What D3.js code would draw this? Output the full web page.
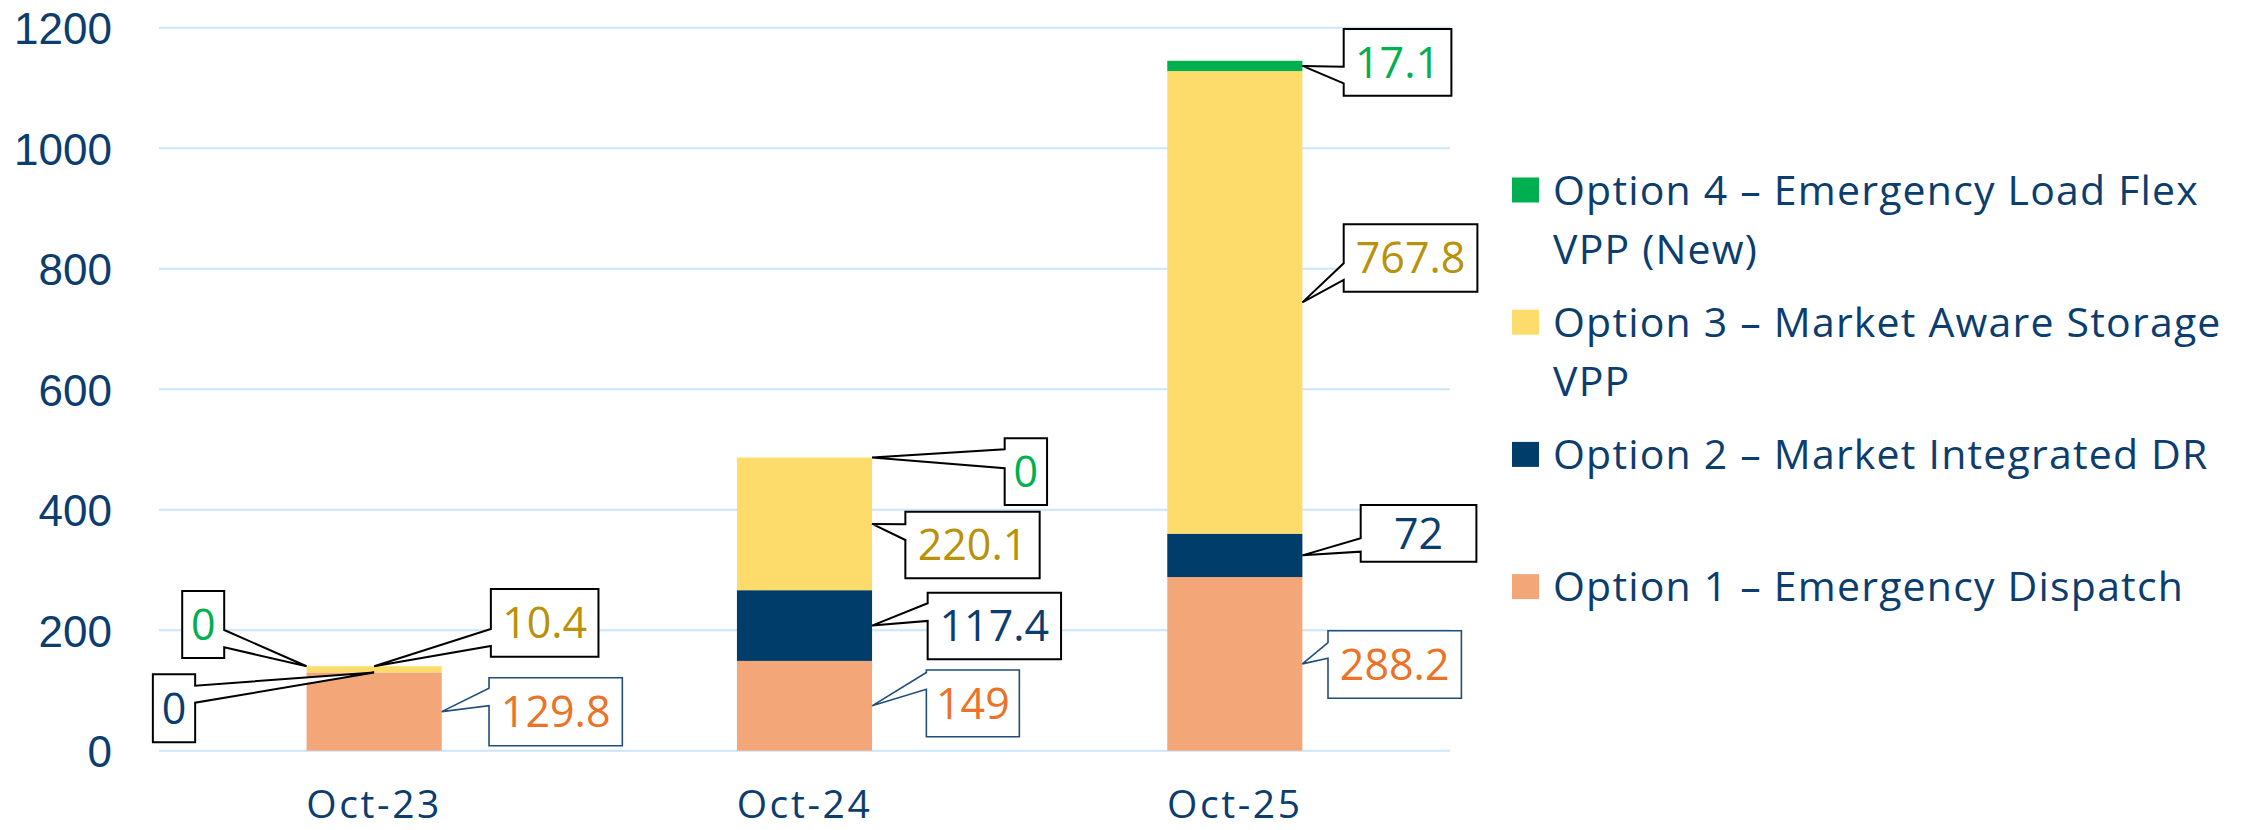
<!DOCTYPE html>
<html>
<head>
<meta charset="utf-8">
<script src="https://cdn.jsdelivr.net/npm/d3@7/dist/d3.min.js"></script>
<style>
  html, body { margin: 0; padding: 0; background: #fff; }
  svg { display: block; }
</style>
</head>
<body>
<svg id="chart" width="2247" height="830"></svg>
<script>
// ---------------- DATA ----------------
const categories = ["Oct-23", "Oct-24", "Oct-25"];
const seriesNames = [
  "Option 1 – Emergency Dispatch",
  "Option 2 – Market Integrated DR",
  "Option 3 – Market Aware Storage VPP",
  "Option 4 – Emergency Load Flex VPP (New)"
];
const option1 = [129.8, 149, 288.2];
const option2 = [0, 117.4, 72];
const option3 = [10.4, 220.1, 767.8];
const option4 = [0, 0, 17.1];
const yTicks = [0, 200, 400, 600, 800, 1000, 1200];
// legend text, as wrapped in the original (top to bottom)
const legendOrder = [3, 2, 1, 0];
const legendLines = [
  ["Option 4 – Emergency Load Flex", "VPP (New)"],
  ["Option 3 – Market Aware Storage", "VPP"],
  ["Option 2 – Market Integrated DR"],
  ["Option 1 – Emergency Dispatch"]
];

// ---------------- STYLE / LAYOUT ----------------
const barColors = ["#F3A779", "#003D6B", "#FEDC6C", "#00AF50"];
const labelColors = ["#EC7228", "#0B3D6E", "#B8920A", "#00B050"];
const calloutStroke = ["#1F4E79", "#000000", "#000000", "#000000"];
const navy = "#0B3D6E";
const gridColor = "#CDE5F8";

// callout placement relative to anchor point on bar (pixels)
const callouts = [
  [ // Oct-23
    {ax: "right",  ay: "mid", dx: 47.3,   dy: -33.9, w: 133.3, h: 68,   side: "left",  p1: 10.6, p2: 28},
    {ax: "center", ay: "top", dx: -221.3, dy: 1.8,   w: 42.3,  h: 68,   side: "right", p1: 11.4, p2: 28.4},
    {ax: "center", ay: "top", dx: 116.7,  dy: -77.2, w: 107.6, h: 67.7, side: "left",  p1: 40,   p2: 57},
    {ax: "left",   ay: "top", dx: -124.4, dy: -75.2, w: 42,    h: 67,   side: "right", p1: 39,   p2: 56.3}
  ],
  [ // Oct-24
    {ax: "right", ay: "mid", dx: 54.3, dy: -35.8, w: 93,    h: 66.7, side: "left", p1: 2.5,  p2: 19.2},
    {ax: "right", ay: "mid", dx: 55.6, dy: -32.9, w: 133.4, h: 66.6, side: "left", p1: 10.6, p2: 28.3},
    {ax: "right", ay: "mid", dx: 33.3, dy: -12.2, w: 134.3, h: 66.6, side: "left", p1: 12.6, p2: 28.3},
    {ax: "right", ay: "top", dx: 132.6, dy: -19.3, w: 42.4, h: 66.7, side: "left", p1: 11,   p2: 30}
  ],
  [ // Oct-25
    {ax: "right", ay: "mid", dx: 25.6, dy: -33.2, w: 133.4, h: 67.6, side: "left", p1: 12,   p2: 27.6},
    {ax: "right", ay: "mid", dx: 58.3, dy: -50.4, w: 115.7, h: 56.7, side: "left", p1: 33.3, p2: 46.7},
    {ax: "right", ay: "mid", dx: 41.3, dy: -78.1, w: 133.7, h: 67.4, side: "left", p1: 39,   p2: 55.7},
    {ax: "right", ay: "mid", dx: 41.3, dy: -36.9, w: 107.7, h: 66.7, side: "left", p1: 37.7, p2: 54.3}
  ]
];

// ---------------- CHART ----------------
const svg = d3.select("#chart");

const x = d3.scaleBand()
  .domain(categories)
  .range([159, 1450])
  .paddingInner(0.686)
  .paddingOuter(0.343);

const y = d3.scaleLinear()
  .domain([0, 1200])
  .range([750.7, 27.7]);

// gridlines
svg.append("g")
  .selectAll("line")
  .data(yTicks)
  .join("line")
  .attr("x1", 159).attr("x2", 1450)
  .attr("y1", d => y(d)).attr("y2", d => y(d))
  .attr("stroke", gridColor)
  .attr("stroke-width", 2);

// y axis labels
const yAxis = d3.axisLeft(y).tickValues(yTicks).tickSize(0).tickPadding(0).tickFormat(d3.format("d"));
const yg = svg.append("g").attr("transform", "translate(112,0)").call(yAxis);
yg.select(".domain").remove();
yg.selectAll("text")
  .attr("fill", navy)
  .attr("font-family", "'Liberation Sans', Arial, sans-serif")
  .attr("font-size", 44)
  .attr("dy", "0.36em");

// x axis labels
const xAxis = d3.axisBottom(x).tickSize(0).tickPadding(0);
const xg = svg.append("g").call(xAxis);
xg.select(".domain").remove();
xg.selectAll("text")
  .attr("fill", navy)
  .attr("font-family", "'Open Sans', sans-serif")
  .attr("font-size", 39)
  .attr("letter-spacing", 2.6)
  .attr("y", 818)
  .attr("dy", 0);

// stacked bars
const table = categories.map((c, i) => ({
  cat: c, s0: option1[i], s1: option2[i], s2: option3[i], s3: option4[i]
}));
const keys = ["s0", "s1", "s2", "s3"];
const stacked = d3.stack().keys(keys)(table);

svg.append("g")
  .selectAll("g")
  .data(stacked)
  .join("g")
  .attr("fill", (d, i) => barColors[i])
  .selectAll("rect")
  .data(d => d)
  .join("rect")
  .attr("x", d => x(d.data.cat))
  .attr("width", x.bandwidth())
  .attr("y", d => y(d[1]))
  .attr("height", d => y(d[0]) - y(d[1]));

// callouts
const cg = svg.append("g");
stacked.forEach((layer, si) => {
  layer.forEach((d, ci) => {
    const L = callouts[ci][si];
    const bx = x(d.data.cat);
    const px = L.ax === "left" ? bx : L.ax === "right" ? bx + x.bandwidth() : bx + x.bandwidth() / 2;
    const py = L.ay === "top" ? y(d[1]) : y((d[0] + d[1]) / 2);
    const x0 = px + L.dx, y0 = py + L.dy, x1 = x0 + L.w, y1 = y0 + L.h;
    const ya = y0 + L.p1, yb = y0 + L.p2;
    let path;
    if (L.side === "left") {
      path = `M${x0},${y0}L${x1},${y0}L${x1},${y1}L${x0},${y1}L${x0},${yb}L${px},${py}L${x0},${ya}Z`;
    } else {
      path = `M${x0},${y0}L${x1},${y0}L${x1},${ya}L${px},${py}L${x1},${yb}L${x1},${y1}L${x0},${y1}Z`;
    }
    cg.append("path")
      .attr("d", path)
      .attr("fill", "#fff")
      .attr("stroke", calloutStroke[si])
      .attr("stroke-width", si === 0 ? 1.6 : 2)
      .attr("stroke-linejoin", "miter");
    const vals = [option1, option2, option3, option4][si];
    cg.append("text")
      .attr("x", (x0 + x1) / 2)
      .attr("y", (y0 + y1) / 2)
      .attr("dy", "0.36em")
      .attr("text-anchor", "middle")
      .attr("fill", labelColors[si])
      .attr("font-family", "'Open Sans', sans-serif")
      .attr("font-size", 43)
      .text(d3.format("~f")(vals[ci]));
  });
});

// legend
const lg = svg.append("g");
legendOrder.forEach((si, k) => {
  const cy = 190 + k * 132.2;
  lg.append("rect")
    .attr("x", 1512).attr("y", cy - 12.5)
    .attr("width", 27).attr("height", 25)
    .attr("fill", barColors[si]);
  const t = lg.append("text")
    .attr("fill", navy)
    .attr("font-family", "'Open Sans', sans-serif")
    .attr("font-size", 41)
    .attr("letter-spacing", 1.2);
  legendLines[k].forEach((line, li) => {
    t.append("tspan")
      .attr("x", 1553)
      .attr("y", cy + 14.5 + li * 59)
      .text(line);
  });
});
</script>
</body>
</html>
